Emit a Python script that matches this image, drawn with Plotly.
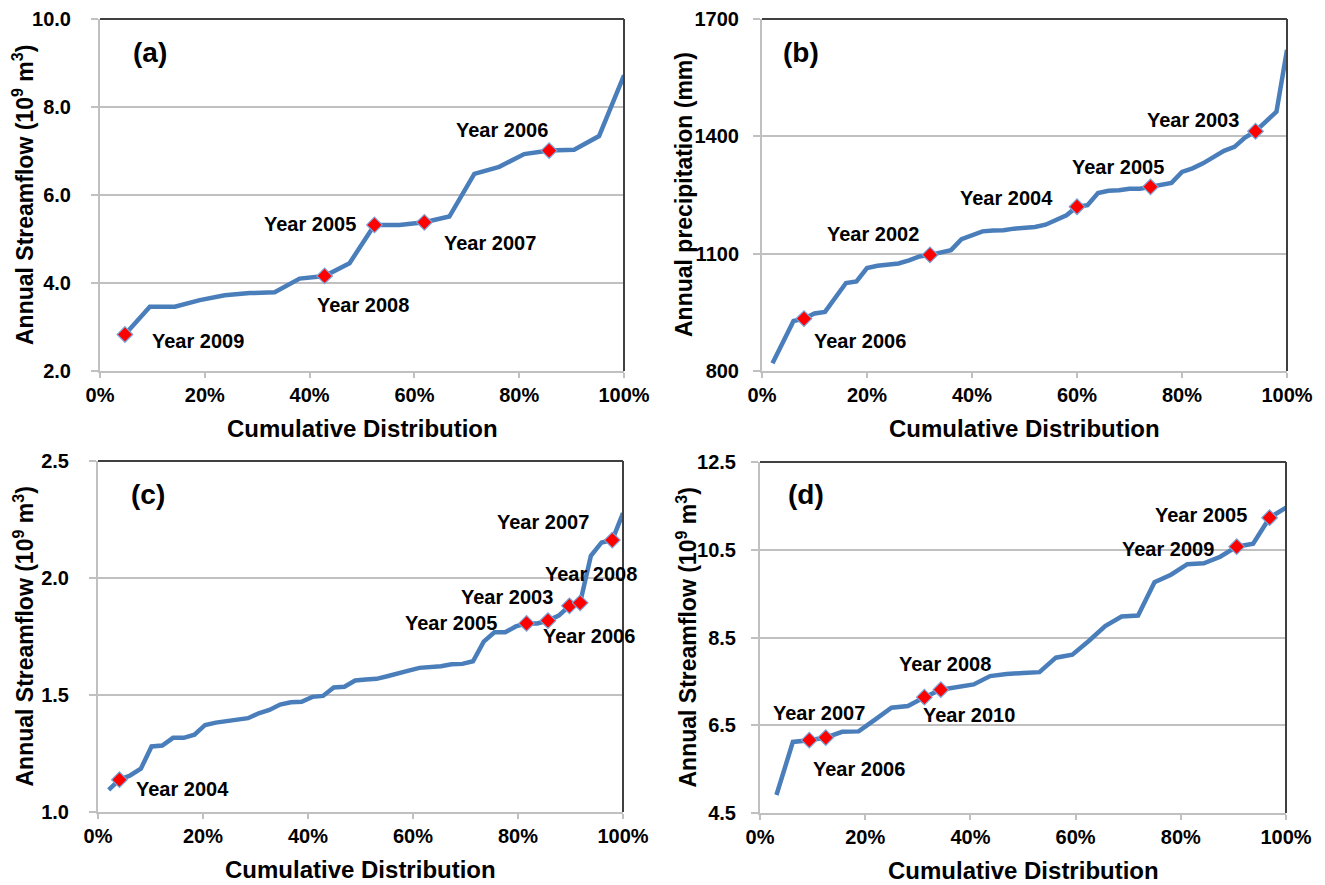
import plotly.graph_objects as go

# ---- (a) annual streamflow, 21 years ----
a_cdf = [4.76, 9.52, 14.29, 19.05, 23.81, 28.57, 33.33, 38.10, 42.86, 47.62, 52.38,
         57.14, 61.90, 66.67, 71.43, 76.19, 80.95, 85.71, 90.48, 95.24, 100.0]
a_flow = [2.83, 3.46, 3.46, 3.61, 3.72, 3.77, 3.79, 4.10, 4.16, 4.45, 5.32,
          5.32, 5.38, 5.51, 6.48, 6.64, 6.93, 7.01, 7.03, 7.34, 8.72]
a_years = {"Year 2009": 0, "Year 2008": 8, "Year 2005": 10, "Year 2007": 12, "Year 2006": 17}

# ---- (b) annual precipitation, 50 years ----
b_cdf = [2, 4, 6, 8, 10, 12, 14, 16, 18, 20, 22, 24, 26, 28, 30, 32, 34, 36, 38, 40,
         42, 44, 46, 48, 50, 52, 54, 56, 58, 60, 62, 64, 66, 68, 70, 72, 74, 76, 78, 80,
         82, 84, 86, 88, 90, 92, 94, 96, 98, 100]
b_prec = [820, 874, 928, 934, 947, 951, 989, 1025, 1029, 1063,
          1069, 1071, 1075, 1083, 1093, 1097, 1103, 1109, 1137, 1147,
          1157, 1159, 1160, 1164, 1166, 1168, 1174, 1185, 1198, 1220,
          1224, 1255, 1261, 1262, 1266, 1266, 1271, 1277, 1281, 1309,
          1318, 1331, 1346, 1363, 1373, 1397, 1413, 1437, 1463, 1621]
b_years = {"Year 2006": 3, "Year 2002": 15, "Year 2004": 29, "Year 2005": 36, "Year 2003": 46}

# ---- (c) annual streamflow, 49 years ----
c_cdf = [2.04, 4.08, 6.12, 8.16, 10.20, 12.24, 14.29, 16.33, 18.37, 20.41, 22.45, 24.49,
         26.53, 28.57, 30.61, 32.65, 34.69, 36.73, 38.78, 40.82, 42.86, 44.90, 46.94,
         48.98, 51.02, 53.06, 55.10, 57.14, 59.18, 61.22, 63.27, 65.31, 67.35, 69.39,
         71.43, 73.47, 75.51, 77.55, 79.59, 81.63, 83.67, 85.71, 87.76, 89.80, 91.84,
         93.88, 95.92, 97.96, 100.0]
c_flow = [1.095, 1.138, 1.156, 1.185, 1.280, 1.284, 1.317, 1.317, 1.330, 1.372,
          1.382, 1.389, 1.397, 1.401, 1.422, 1.436, 1.459, 1.469, 1.471, 1.492,
          1.496, 1.532, 1.535, 1.562, 1.566, 1.569, 1.580, 1.594, 1.604, 1.616,
          1.618, 1.623, 1.631, 1.633, 1.644, 1.728, 1.768, 1.768, 1.793, 1.806,
          1.806, 1.818, 1.839, 1.881, 1.894, 2.095, 2.152, 2.162, 2.277]
c_years = {"Year 2004": 1, "Year 2005": 39, "Year 2006": 41, "Year 2003": 43,
           "Year 2008": 44, "Year 2007": 47}

# ---- (d) annual streamflow, 32 years ----
d_cdf = [3.125, 6.25, 9.375, 12.5, 15.625, 18.75, 21.875, 25.0, 28.125, 31.25, 34.375,
         37.5, 40.625, 43.75, 46.875, 50.0, 53.125, 56.25, 59.375, 62.5, 65.625, 68.75,
         71.875, 75.0, 78.125, 81.25, 84.375, 87.5, 90.625, 93.75, 96.875, 100.0]
d_flow = [4.91, 6.12, 6.16, 6.22, 6.35, 6.36, 6.63, 6.90, 6.94, 7.14, 7.31,
          7.36, 7.43, 7.62, 7.67, 7.69, 7.71, 8.04, 8.11, 8.42, 8.76, 8.98,
          9.00, 9.76, 9.93, 10.17, 10.19, 10.34, 10.57, 10.64, 11.23, 11.46]
d_years = {"Year 2007": 2, "Year 2006": 3, "Year 2010": 9, "Year 2008": 10,
           "Year 2009": 28, "Year 2005": 30}

x_ticks = [0, 20, 40, 60, 80, 100]
x_ticklabels = ["0%", "20%", "40%", "60%", "80%", "100%"]

FONT = "Liberation Sans, Arial, sans-serif"
LINE_BLUE = "#4a7ebb"
GRID = "#c0c0c0"
BORDER = "#404040"

W, H = 1325, 885

# panel frames in pixels: (left, right, top, bottom)
frames = {
    "a": (100, 624, 19, 371),
    "b": (762, 1287, 19, 371),
    "c": (98, 623, 461, 812),
    "d": (760, 1286, 462, 813),
}

panels = [
    ("a", a_cdf, a_flow, a_years, [2, 10], [2, 4, 6, 8, 10], "{:.1f}",
     "Annual Streamflow (10<sup>9</sup> m<sup>3</sup>)"),
    ("b", b_cdf, b_prec, b_years, [800, 1700], [800, 1100, 1400, 1700], "{:.0f}",
     "Annual precipitation (mm)"),
    ("c", c_cdf, c_flow, c_years, [1.0, 2.5], [1.0, 1.5, 2.0, 2.5], "{:.1f}",
     "Annual Streamflow (10<sup>9</sup> m<sup>3</sup>)"),
    ("d", d_cdf, d_flow, d_years, [4.5, 12.5], [4.5, 6.5, 8.5, 10.5, 12.5], "{:.1f}",
     "Annual Streamflow (10<sup>9</sup> m<sup>3</sup>)"),
]

# label placement for each year tag: (xanchor, xshift, yshift)
label_pos = {
    "a": {"Year 2009": ("left", 25, -7), "Year 2008": ("left", -10, -29),
          "Year 2005": ("right", -16, 1), "Year 2007": ("left", 18, -21),
          "Year 2006": ("right", 1, 21)},
    "b": {"Year 2006": ("left", 8, -22), "Year 2002": ("right", -9, 21),
          "Year 2004": ("right", -22, 9), "Year 2005": ("right", 15, 20),
          "Year 2003": ("right", -15, 11)},
    "c": {"Year 2004": ("left", 15, -9), "Year 2005": ("right", -28, 0),
          "Year 2006": ("left", -7, -15), "Year 2003": ("right", -14, 9),
          "Year 2008": ("left", -37, 29), "Year 2007": ("right", -21, 18)},
    "d": {"Year 2007": ("center", 10, 27), "Year 2006": ("left", -15, -31),
          "Year 2010": ("left", -3, -18), "Year 2008": ("center", 4, 26),
          "Year 2009": ("right", -21, -2), "Year 2005": ("right", -21, 3)},
}

# panel tag position (pixels), y-title x position (pixels), y tick label gap
tag_px = {"a": (131, 52), "b": (781, 52), "c": (129, 494), "d": (786, 494)}
ytitle_x = {"a": 23, "b": 684, "c": 23, "d": 686}
ylab_gap = {"a": 16, "b": 10, "c": 16, "d": 11}

fig = go.Figure()
layout = dict(width=W, height=H, margin=dict(l=0, r=0, t=0, b=0, autoexpand=False),
              paper_bgcolor="white", plot_bgcolor="white", showlegend=False,
              font=dict(family=FONT, color="black"))
annotations = []
shapes = []
tick_font = dict(family=FONT, size=20, color="black")


def bold(s):
    return "<b>%s</b>" % s


for k, (key, xs, ys, years, yrange, yticks, yfmt, ytitle) in enumerate(panels):
    n = k + 1
    sfx = "" if n == 1 else str(n)
    xa, ya = "x" + sfx, "y" + sfx
    l, r, t, b = frames[key]
    xdom = [l / W, r / W]
    ydom = [1 - b / H, 1 - t / H]

    fig.add_trace(go.Scatter(x=xs, y=ys, mode="lines", xaxis=xa, yaxis=ya,
                             line=dict(color=LINE_BLUE, width=4.5), hoverinfo="skip"))
    idx = list(years.values())
    fig.add_trace(go.Scatter(x=[xs[i] for i in idx], y=[ys[i] for i in idx],
                             mode="markers", xaxis=xa, yaxis=ya,
                             marker=dict(symbol="diamond", size=12, color="#ff0000",
                                         line=dict(color="#7aa3d8", width=1.2))))

    layout["xaxis" + sfx] = dict(
        domain=xdom, anchor=ya, range=[0, 100], tickvals=x_ticks,
        ticktext=[bold(s) for s in x_ticklabels], automargin=False,
        showgrid=False, zeroline=False, showline=True, linecolor=GRID, linewidth=2,
        ticks="outside", ticklen=5, tickcolor=GRID, tickwidth=2,
        tickfont=tick_font, ticklabelstandoff=0,
    )
    layout["yaxis" + sfx] = dict(
        domain=ydom, anchor=xa, range=yrange, tickvals=yticks,
        ticktext=[bold(yfmt.format(v)) for v in yticks], automargin=False,
        showgrid=True, gridcolor=GRID, gridwidth=1.5, zeroline=False,
        showline=True, linecolor=GRID, linewidth=2,
        ticks="outside", ticklen=7, tickcolor=GRID, tickwidth=2,
        tickfont=tick_font, ticklabelstandoff=ylab_gap[key],
    )

    # dark frame on top and right edges
    shapes.append(dict(type="line", xref="paper", yref="paper",
                       x0=xdom[0], x1=xdom[1], y0=ydom[1], y1=ydom[1],
                       line=dict(color=BORDER, width=2)))
    shapes.append(dict(type="line", xref="paper", yref="paper",
                       x0=xdom[1], x1=xdom[1], y0=ydom[0], y1=ydom[1],
                       line=dict(color=BORDER, width=2)))

    # year tags
    for name, i in years.items():
        anchor, dx, dy = label_pos[key][name]
        annotations.append(dict(x=xs[i], y=ys[i], xref=xa, yref=ya, text=bold(name),
                                showarrow=False, xanchor=anchor, yanchor="middle",
                                xshift=dx, yshift=dy,
                                font=dict(family=FONT, size=20, color="black")))

    # panel tag
    tx, ty = tag_px[key]
    annotations.append(dict(x=tx / W, y=1 - ty / H, xref="paper", yref="paper",
                            text=bold("(%s)" % key), showarrow=False, xanchor="left",
                            yanchor="middle",
                            font=dict(family=FONT, size=28, color="black")))

    # axis titles
    annotations.append(dict(x=(l + r) / 2 / W, y=1 - (b + 57) / H, xref="paper",
                            yref="paper", text=bold("Cumulative Distribution"),
                            showarrow=False, xanchor="center", yanchor="middle",
                            font=dict(family=FONT, size=24, color="black")))
    annotations.append(dict(x=ytitle_x[key] / W, y=1 - (t + b) / 2 / H, xref="paper",
                            yref="paper", text=bold(ytitle), textangle=-90,
                            showarrow=False, xanchor="center", yanchor="middle",
                            font=dict(family=FONT, size=23, color="black")))

layout["annotations"] = annotations
layout["shapes"] = shapes
fig.update_layout(**layout)
fig.write_html("out.html")
